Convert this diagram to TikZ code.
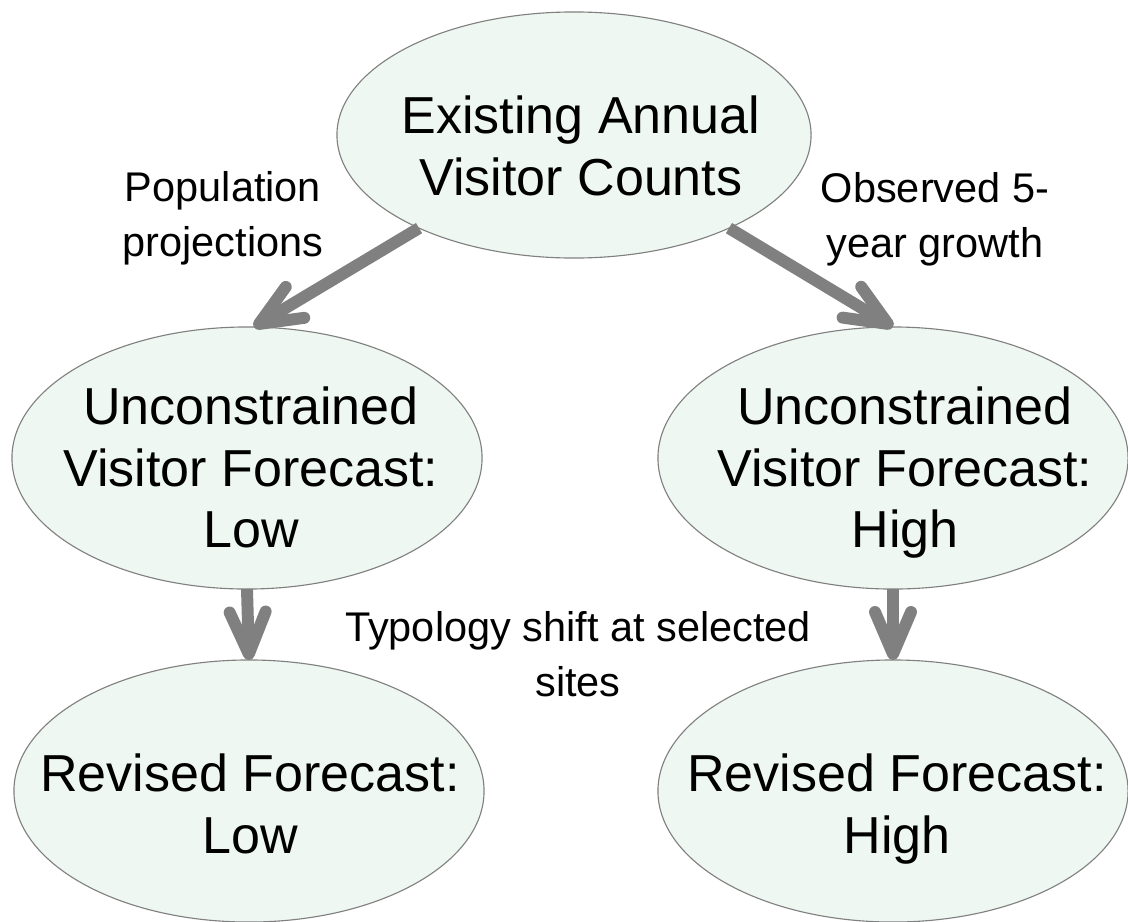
\documentclass[tikz,border=0pt]{standalone}
\usepackage{fontspec}
\setmainfont{Liberation Sans}
\usepackage{tikz}
\usetikzlibrary{shapes.geometric,arrows.meta}
\definecolor{bubblefill}{RGB}{238,247,242}
\definecolor{bubbleline}{RGB}{128,128,128}
\definecolor{flowgray}{RGB}{128,128,128}

\begin{document}
\begin{tikzpicture}[x=0.025cm, y=-0.025cm,
    bubble/.style={ellipse, draw=bubbleline, line width=0.8pt, fill=bubblefill,
        minimum width=11.75cm, minimum height=6.55cm, inner sep=0pt, outer sep=0pt},
    bigtext/.style={align=center, anchor=north, inner sep=0pt,
        font=\fontsize{37}{43.5}\selectfont},
    smalltext/.style={align=center, anchor=north, inner sep=0pt,
        font=\fontsize{29.5}{39}\selectfont},
    flow/.style={draw=flowgray, line width=8.5pt,
        -{Straight Barb[round, length=1.05cm, width=0.9cm]}}]
    \useasboundingbox (0,0) rectangle (1128,921);
    % Draw the ellipses
    \node[bubble, minimum width=11.85cm, minimum height=6.15cm] (existing) at (574,135) {};
    \node[bubble] (uncLow) at (247,458) {};
    \node[bubble] (uncHigh) at (893,458) {};
    \node[bubble] (revLow) at (249,791) {};
    \node[bubble] (revHigh) at (893,791) {};
    % Draw the texts inside
    \node[bigtext] (existingTxt) at (581,96) {Existing Annual\\Visitor Counts};
    \node[bigtext] (uncLowTxt) at (251,387) {Unconstrained\\Visitor Forecast:\\Low};
    \node[bigtext] (uncHighTxt) at (905,387) {Unconstrained\\Visitor Forecast:\\High};
    \node[bigtext] (revLowTxt) at (250,754) {Revised Forecast:\\Low};
    \node[bigtext] (revHighTxt) at (897,754) {Revised Forecast:\\High};
    % Draw the arrows
    \draw[flow] (existing.211) -- (uncLow.87);
    \draw[flow] (existing.329) -- (uncHigh.north);
    \draw[flow] (uncLow.south) -- (revLow.north);
    \draw[flow] (uncHigh.south) -- (revHigh.north);
    % Draw the labels
    \node[smalltext] (popLbl) at (223,171) {Population\\projections};
    \node[smalltext] (growthLbl) at (935,172) {Observed 5-\\year growth};
    \node[smalltext] (shiftLbl) at (578,611) {Typology shift at selected\\sites};
\end{tikzpicture}
\end{document}
